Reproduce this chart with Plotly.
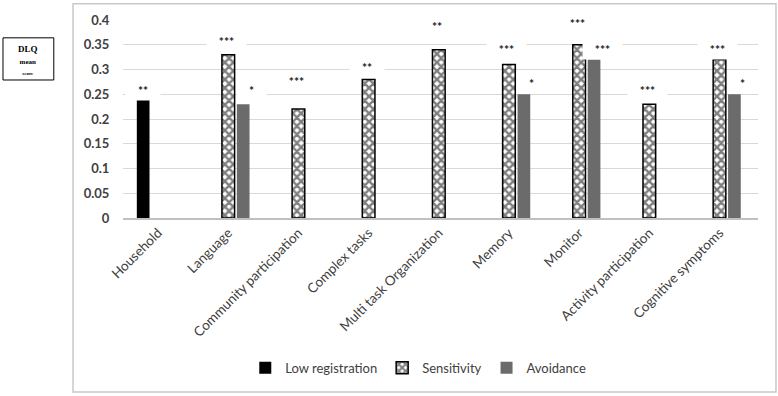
import plotly.graph_objects as go

# ---------------- data ----------------
categories = ["Household", "Language", "Community participation", "Complex tasks",
              "Multi task Organization", "Memory", "Monitor",
              "Activity participation", "Cognitive symptoms"]
low_registration = [0.24, None, None, None, None, None, None, None, None]
sensitivity = [None, 0.33, 0.22, 0.28, 0.34, 0.31, 0.35, 0.23, 0.32]
avoidance = [None, 0.23, None, None, None, 0.25, 0.32, None, 0.25]

low_registration_sig = ["**", "", "", "", "", "", "", "", ""]
sensitivity_sig = ["", "***", "***", "**", "**", "***", "***", "***", "***"]
avoidance_sig = ["", "*", "", "", "", "*", "***", "", "*"]

y_tick_values = [0, 0.05, 0.1, 0.15, 0.2, 0.25, 0.3, 0.35, 0.4]
y_tick_labels = ["0", "0.05", "0.1", "0.15", "0.2", "0.25", "0.3", "0.35", "0.4"]

# ---------------- style ----------------
FONT = "Lato"
TXT = "#404040"
star_lift = {  # height of significance marks above bar top (data units)
    "lr": [0.025, 0, 0, 0, 0, 0, 0, 0, 0],
    "s": [0, 0.034, 0.063, 0.032, 0.054, 0.038, 0.05, 0.035, 0.028],
    "a": [0, 0.035, 0, 0, 0, 0.029, 0.028, 0, 0.029],
}

fig = go.Figure()
fig.add_trace(go.Bar(name="Low registration", x=categories, y=low_registration,
                     marker=dict(color="#000000", line=dict(width=0))))
fig.add_trace(go.Bar(name="Sensitivity", x=categories, y=sensitivity,
                     marker=dict(color="#ffffff",
                                 line=dict(color="#000000", width=1.5),
                                 pattern=dict(shape="x", fgcolor="#000000",
                                              bgcolor="#ffffff", size=6,
                                              solidity=0.65))))
fig.add_trace(go.Bar(name="Avoidance", x=categories, y=avoidance,
                     marker=dict(color="#6b6b6b", line=dict(width=0))))

annotations = []
series = [(low_registration, low_registration_sig, star_lift["lr"], -15, 0),
          (sensitivity, sensitivity_sig, star_lift["s"], 0, -2),
          (avoidance, avoidance_sig, star_lift["a"], 15, 8)]
for vals, sigs, lifts, off, tweak in series:
    for cat, v, s, l in zip(categories, vals, sigs, lifts):
        if v is None or not s:
            continue
        annotations.append(dict(
            x=cat, y=v + l, xref="x", yref="y", text=s, showarrow=False,
            xshift=off + tweak, yshift=-3, bgcolor="#ffffff",
            width=len(s) * 5 + 24, height=20, borderpad=0,
            font=dict(family=FONT, size=12, color="#1a1a1a", weight="bold")))

# DLQ mean score box text
annotations.append(dict(
    xref="paper", yref="paper", x=-0.149, y=0.885, xanchor="center", yanchor="top",
    text="<b>DLQ</b><br><span style='font-size:7px'><b>mean</b></span>"
         "<br><span style='font-size:5px'><b>score</b></span>",
    showarrow=False, valign="top", align="center", borderpad=0,
    font=dict(family="Liberation Serif", size=9, color="#000000")))

fig.update_layout(
    annotations=annotations,
    width=778, height=396,
    margin=dict(l=123, r=20, t=17, b=178),
    paper_bgcolor="#ffffff", plot_bgcolor="#ffffff",
    barmode="group", bargap=0.362, bargroupgap=0.15,
    font=dict(family=FONT, size=13, color=TXT),
    showlegend=True,
    legend=dict(orientation="h", x=0.465, xanchor="center", y=-0.756, yanchor="middle",
                font=dict(family=FONT, size=13, color=TXT), itemwidth=30,
                traceorder="normal", bgcolor="rgba(0,0,0,0)"),
    shapes=[
        dict(type="rect", xref="paper", yref="paper",
             x0=-0.0787, x1=1.0283, y0=-0.879, y1=1.082,
             line=dict(color="#c8c8c8", width=1.5), fillcolor="rgba(0,0,0,0)", layer="below"),
        dict(type="rect", xref="paper", yref="paper",
             x0=-0.189, x1=-0.109, y0=0.697, y1=0.910,
             line=dict(color="#000000", width=1), fillcolor="rgba(0,0,0,0)"),
    ],
    xaxis=dict(tickangle=-45, showgrid=False, showline=True, linecolor="#c0c0c0",
               linewidth=1.5, ticks="", tickfont=dict(family=FONT, size=13.5, color=TXT)),
    yaxis=dict(range=[0, 0.4], tickvals=y_tick_values, ticktext=y_tick_labels,
               showgrid=True, gridcolor="#d9d9d9", gridwidth=1, zeroline=False,
               showline=False, ticks="outside", ticklen=10, tickcolor="rgba(0,0,0,0)",
               tickfont=dict(family=FONT, size=13, color=TXT, weight="bold")),
)

fig.write_html("out.html", config={"displayModeBar": False},
               post_script="document.body.style.margin='0';"
                           "document.body.style.overflow='hidden';")
